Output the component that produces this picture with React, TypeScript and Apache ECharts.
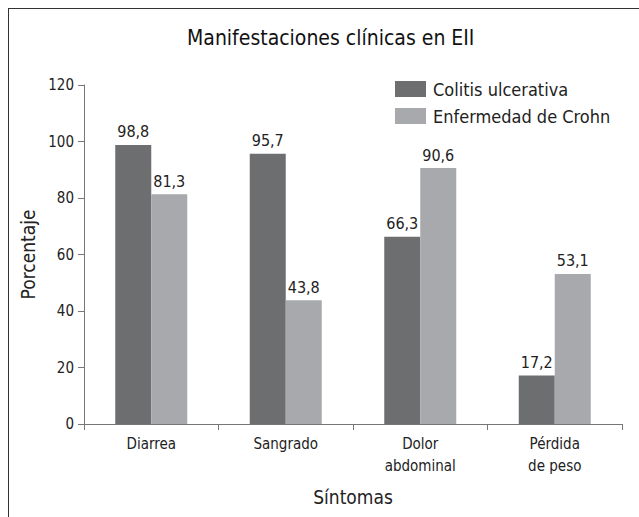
import React, { useEffect, useRef } from "react";
import * as echarts from "echarts";

const categories = ["Diarrea", "Sangrado", "Dolor\nabdominal", "Pérdida\nde peso"];
const colitis = [98.8, 95.7, 66.3, 17.2];
const crohn = [81.3, 43.8, 90.6, 53.1];
const seriesNames = ["Colitis ulcerativa", "Enfermedad de Crohn"];
const FONT = "'DejaVu Sans Condensed', 'Liberation Sans Narrow', 'Liberation Sans', Arial, sans-serif";

export default function App() {
  const ref = useRef<HTMLDivElement>(null);
  useEffect(() => {
    const chart = echarts.init(ref.current!, null, { renderer: "svg" });
    const fmt = (p: any) => String(p.value).replace(".", ",");
    chart.setOption({
      animation: false,
      textStyle: { fontFamily: FONT },
      title: {
        text: "Manifestaciones clínicas en EII",
        left: 182,
        top: 22,
        textStyle: { fontFamily: FONT, fontSize: 21, fontWeight: "normal", color: "#111" },
      },
      graphic: [
        { type: "line", shape: { x1: 8, y1: 8.5, x2: 639, y2: 8.5 }, style: { stroke: "#333", lineWidth: 1 } },
        { type: "line", shape: { x1: 8.5, y1: 8, x2: 8.5, y2: 517 }, style: { stroke: "#333", lineWidth: 1 } },
      ],
      legend: {
        orient: "vertical",
        left: 390,
        top: 75,
        itemWidth: 31,
        itemHeight: 16,
        itemGap: 9,
        icon: "rect",
        textStyle: { fontFamily: FONT, fontSize: 18, lineHeight: 16, color: "#222", padding: [0, 0, 0, 2] },
        data: seriesNames,
      },
      grid: { left: 84, right: 17, top: 85, bottom: 93 },
      xAxis: {
        type: "category",
        data: categories,
        name: "Síntomas",
        nameLocation: "middle",
        nameGap: 63,
        nameTextStyle: { fontFamily: FONT, fontSize: 19, color: "#222", verticalAlign: "top" },
        axisLine: { lineStyle: { color: "#777" } },
        axisTick: { show: true, length: 6, lineStyle: { color: "#777" } },
        axisLabel: { fontFamily: FONT, fontSize: 15, color: "#222", margin: 9, lineHeight: 22 },
      },
      yAxis: {
        type: "value",
        min: 0,
        max: 120,
        interval: 20,
        name: "Porcentaje",
        nameLocation: "middle",
        nameGap: 42,
        nameTextStyle: { fontFamily: FONT, fontSize: 19, color: "#222" },
        splitLine: { show: false },
        axisLine: { show: true, lineStyle: { color: "#777" } },
        axisTick: { show: true, length: 6, lineStyle: { color: "#777" } },
        axisLabel: { fontFamily: FONT, fontSize: 15, color: "#222", margin: 10 },
      },
      series: [
        {
          name: seriesNames[0],
          type: "bar",
          data: colitis,
          barWidth: 36,
          barGap: "0%",
          itemStyle: { color: "#6d6e70" },
          label: { show: true, position: "top", distance: 5, formatter: fmt, fontFamily: FONT, fontSize: 16, color: "#222" },
        },
        {
          name: seriesNames[1],
          type: "bar",
          data: crohn,
          barWidth: 36,
          barGap: "0%",
          itemStyle: { color: "#a7a9ac" },
          label: { show: true, position: "top", distance: 5, formatter: fmt, fontFamily: FONT, fontSize: 16, color: "#222" },
        },
      ],
    });
    return () => chart.dispose();
  }, []);
  return <div ref={ref} style={{ width: 639, height: 517, position: "absolute", left: 0, top: 0 }} />;
}
